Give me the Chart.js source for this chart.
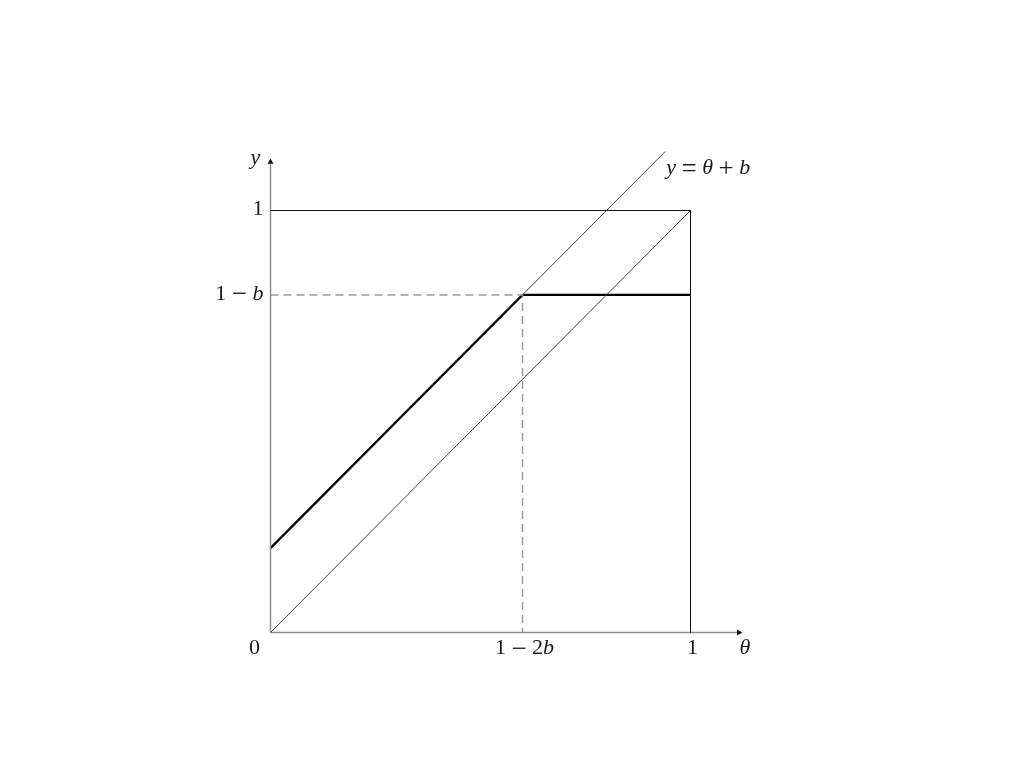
<!DOCTYPE html>
<html>
<head>
<meta charset="utf-8">
<title>y = θ + b</title>
<script src="https://cdn.jsdelivr.net/npm/chart.js@4.4.1/dist/chart.umd.min.js"></script>
<style>
  html, body { margin: 0; padding: 0; background: #fff; }
  #chart { display: block; }
</style>
</head>
<body>
<canvas id="chart" width="1024" height="768"></canvas>
<script>
// model values
const b = 0.2;
const axisEnd = 1.115;

// bold curve: min(theta + b, 1 - b)
const policyTheta = [0, 0.6, 1];
const policyY = [0.2, 0.8, 0.8];

// thin line y = theta + b, continued past the kink
const shiftTheta = [0.6, 0.94];
const shiftY = [0.8, 1.14];

// diagonal y = theta
const diagTheta = [0, 1];
const diagY = [0, 1];

// unit box (top and right sides)
const boxTheta = [0, 1, 1];
const boxY = [1, 1, 0];

// dashed guides to 1 - 2b and 1 - b
const guideTheta = [0, 0.6, 0.6];
const guideY = [0.8, 0.8, 0];

// tick labels
const thetaTicks = [0.6, 1];
const thetaTickLabels = ['1 − 2b', '1'];
const yTicks = [0.8, 1];
const yTickLabels = ['1 − b', '1'];

const pts = (xs, ys) => xs.map((x, i) => ({ x: x, y: ys[i] }));

const FONT_SIZE = 22;
const OP_SIZE = 27;
const OP_PAD = 5.5;
function drawMath(ctx, text, x, y, align) {
  // letters italic, digits upright, operators upright and a bit bigger
  const parts = [];
  for (const ch of text) {
    if (ch === ' ') continue;
    const it = /[a-zθ]/.test(ch);
    const op = /[=+−]/.test(ch);
    const last = parts[parts.length - 1];
    if (last && !op && !last.op && last.it === it) last.t += ch;
    else parts.push({ t: ch, it: it, op: op });
  }
  const fontOf = p => (p.it ? 'italic ' : '') + (p.op ? OP_SIZE : FONT_SIZE) + 'px "Liberation Serif", serif';
  const widthOf = p => { ctx.font = fontOf(p); return ctx.measureText(p.t).width + (p.op ? 2 * OP_PAD : 0); };
  let w = 0;
  parts.forEach(p => { w += widthOf(p); });
  let cx = align === 'right' ? x - w : align === 'center' ? x - w / 2 : x;
  ctx.textBaseline = 'middle';
  ctx.textAlign = 'left';
  parts.forEach(p => {
    const pw = widthOf(p);
    ctx.font = fontOf(p);
    ctx.fillText(p.t, cx + (p.op ? OP_PAD : 0), y + (p.op ? 1 : 0));
    cx += pw;
  });
}

const labelPlugin = {
  id: 'mathLabels',
  afterDatasetsDraw(chart) {
    const ctx = chart.ctx;
    const xs = chart.scales.x, ys = chart.scales.y;
    const x0 = xs.getPixelForValue(0), y0 = ys.getPixelForValue(0);
    ctx.save();
    ctx.fillStyle = '#1a1a1a';
    thetaTicks.forEach((v, i) => drawMath(ctx, thetaTickLabels[i], xs.getPixelForValue(v) + 2, y0 + 16, 'center'));
    yTicks.forEach((v, i) => drawMath(ctx, yTickLabels[i], x0 - 7, ys.getPixelForValue(v) - 1, 'right'));
    drawMath(ctx, '0', x0 - 16, y0 + 16, 'center');
    drawMath(ctx, 'θ', xs.getPixelForValue(axisEnd) + 6, y0 + 16, 'center');
    drawMath(ctx, 'y', x0 - 15, ys.getPixelForValue(axisEnd) - 4, 'center');
    drawMath(ctx, 'y = θ + b', xs.getPixelForValue(shiftTheta[1]) + 1, ys.getPixelForValue(shiftY[1]) + 17, 'left');
    ctx.restore();
  }
};

const line = (data, color, width, extra) => Object.assign({
  data: data, borderColor: color, borderWidth: width, pointRadius: 0,
  showLine: true, fill: false, tension: 0, clip: false
}, extra || {});

// left edge at 270.5 and bottom at 632.5 keep 1px lines crisp
const left = 270.5, bottom = 632.5, pxX = 420, pxY = 422, vmax = 1.15;

new Chart(document.getElementById('chart'), {
  type: 'scatter',
  data: {
    datasets: [
      line(pts(guideTheta, guideY), '#9a9a9a', 1.5, { borderDash: [8, 5] }),
      line(pts(boxTheta, boxY), '#111', 1),
      line(pts(diagTheta, diagY), '#444', 1),
      line(pts(shiftTheta, shiftY), '#444', 1),
      line(pts([0, axisEnd], [0, 0]), '#8c8c8c', 1.5, {
        pointRadius: [0, 3.5], pointStyle: 'triangle', pointRotation: 90,
        backgroundColor: '#111', pointBorderWidth: 0, pointBorderColor: '#111'
      }),
      line(pts([0, 0], [0, axisEnd]), '#8c8c8c', 1.5, {
        pointRadius: [0, 3.5], pointStyle: 'triangle', pointRotation: 0,
        backgroundColor: '#111', pointBorderWidth: 0, pointBorderColor: '#111'
      }),
      line(pts(policyTheta, policyY), '#000', 2.2)
    ]
  },
  options: {
    responsive: false,
    animation: false,
    events: [],
    layout: { padding: { left: left, right: 1024 - (left + vmax * pxX), top: bottom - vmax * pxY, bottom: 768 - bottom } },
    scales: {
      x: { type: 'linear', min: 0, max: vmax, display: false },
      y: { type: 'linear', min: 0, max: vmax, display: false }
    },
    plugins: { legend: { display: false }, tooltip: { enabled: false } }
  },
  plugins: [labelPlugin]
});
</script>
</body>
</html>
